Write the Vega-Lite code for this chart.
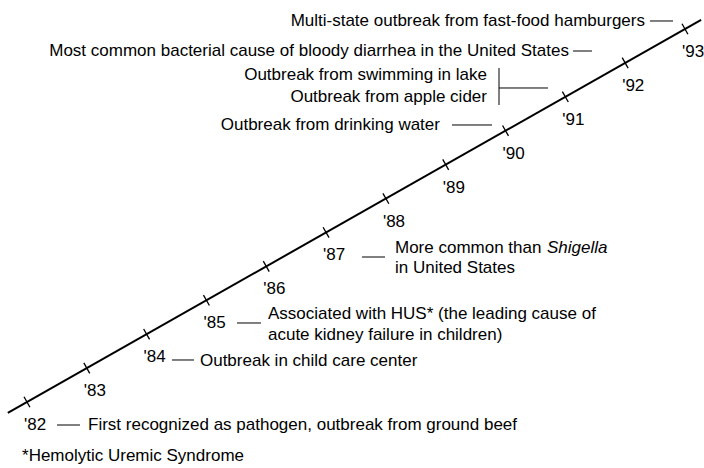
{
  "$schema": "https://vega.github.io/schema/vega-lite/v6.json",
  "width": 704,
  "height": 468,
  "autosize": "none",
  "padding": 0,
  "background": "white",
  "config": {
    "view": {"stroke": null},
    "text": {"font": "Liberation Sans", "fontSize": 17, "color": "black", "baseline": "middle"}
  },
  "datasets": {
    "main": [{"x": 1981.68, "y": 1981.68, "x2": 1993.27, "y2": 1993.27}],
    "years": [
      {"year": 1982, "label": "'82"}, {"year": 1983, "label": "'83"}, {"year": 1984, "label": "'84"},
      {"year": 1985, "label": "'85"}, {"year": 1986, "label": "'86"}, {"year": 1987, "label": "'87"},
      {"year": 1988, "label": "'88"}, {"year": 1989, "label": "'89"}, {"year": 1990, "label": "'90"},
      {"year": 1991, "label": "'91"}, {"year": 1992, "label": "'92"}, {"year": 1993, "label": "'93"}
    ],
    "leaders": [
      {"x": 1992.415, "y": 1993.236, "x2": 1992.800, "y2": 1993.236},
      {"x": 1991.128, "y": 1992.351, "x2": 1991.445, "y2": 1992.351},
      {"x": 1989.891, "y": 1991.850, "x2": 1989.891, "y2": 1990.759},
      {"x": 1989.891, "y": 1991.260, "x2": 1990.710, "y2": 1991.260},
      {"x": 1989.105, "y": 1990.169, "x2": 1989.774, "y2": 1990.169},
      {"x": 1987.601, "y": 1986.276, "x2": 1987.985, "y2": 1986.276},
      {"x": 1985.511, "y": 1984.330, "x2": 1985.912, "y2": 1984.330},
      {"x": 1984.424, "y": 1983.239, "x2": 1984.792, "y2": 1983.239},
      {"x": 1982.502, "y": 1981.322, "x2": 1982.886, "y2": 1981.322}
    ],
    "notesRight": [
      {"x": 1992.331, "y": 1993.236, "text": "Multi-state outbreak from fast-food hamburgers"},
      {"x": 1991.061, "y": 1992.351, "text": "Most common bacterial cause of bloody diarrhea in the United States"},
      {"x": 1989.690, "y": 1991.643, "text": "Outbreak from swimming in lake"},
      {"x": 1989.690, "y": 1990.994, "text": "Outbreak from apple cider"},
      {"x": 1988.904, "y": 1990.169, "text": "Outbreak from drinking water"}
    ],
    "notesLeft": [
      {"x": 1988.152, "y": 1986.541, "text": "More common than "},
      {"x": 1988.152, "y": 1985.952, "text": "in United States"},
      {"x": 1986.029, "y": 1984.595, "text": "Associated with HUS* (the leading cause of"},
      {"x": 1986.029, "y": 1983.976, "text": "acute kidney failure in children)"},
      {"x": 1984.892, "y": 1983.209, "text": "Outbreak in child care center"},
      {"x": 1983.020, "y": 1981.322, "text": "First recognized as pathogen, outbreak from ground beef"},
      {"x": 1981.917, "y": 1980.408, "text": "*Hemolytic Uremic Syndrome"}
    ],
    "notesItalic": [
      {"x": 1990.693, "y": 1986.541, "text": "Shigella"}
    ]
  },
  "encoding": {
    "x": {"field": "x", "type": "quantitative", "scale": {"domain": [1981.549, 1993.318], "nice": false, "zero": false}, "axis": null},
    "y": {"field": "y", "type": "quantitative", "scale": {"domain": [1980.054, 1993.855], "nice": false, "zero": false}, "axis": null}
  },
  "layer": [
    {
      "data": {"name": "main"},
      "mark": {"type": "rule", "strokeWidth": 2, "color": "black"},
      "encoding": {"x2": {"field": "x2"}, "y2": {"field": "y2"}}
    },
    {
      "data": {"name": "leaders"},
      "mark": {"type": "rule", "strokeWidth": 1, "color": "black"},
      "encoding": {"x2": {"field": "x2"}, "y2": {"field": "y2"}}
    },
    {
      "data": {"name": "years"},
      "mark": {"type": "point", "shape": "M0,-1L0,1", "angle": -29.6, "size": 144, "filled": false, "strokeWidth": 1.3, "color": "black", "opacity": 1},
      "encoding": {
        "x": {"field": "year", "type": "quantitative"},
        "y": {"field": "year", "type": "quantitative"}
      }
    },
    {
      "data": {"name": "years"},
      "mark": {"type": "text", "align": "left", "dx": -3, "dy": 23},
      "encoding": {
        "x": {"field": "year", "type": "quantitative"},
        "y": {"field": "year", "type": "quantitative"},
        "text": {"field": "label"}
      }
    },
    {
      "data": {"name": "notesRight"},
      "mark": {"type": "text", "align": "right"},
      "encoding": {"text": {"field": "text"}}
    },
    {
      "data": {"name": "notesLeft"},
      "mark": {"type": "text", "align": "left"},
      "encoding": {"text": {"field": "text"}}
    },
    {
      "data": {"name": "notesItalic"},
      "mark": {"type": "text", "align": "left", "fontStyle": "italic"},
      "encoding": {"text": {"field": "text"}}
    }
  ]
}
